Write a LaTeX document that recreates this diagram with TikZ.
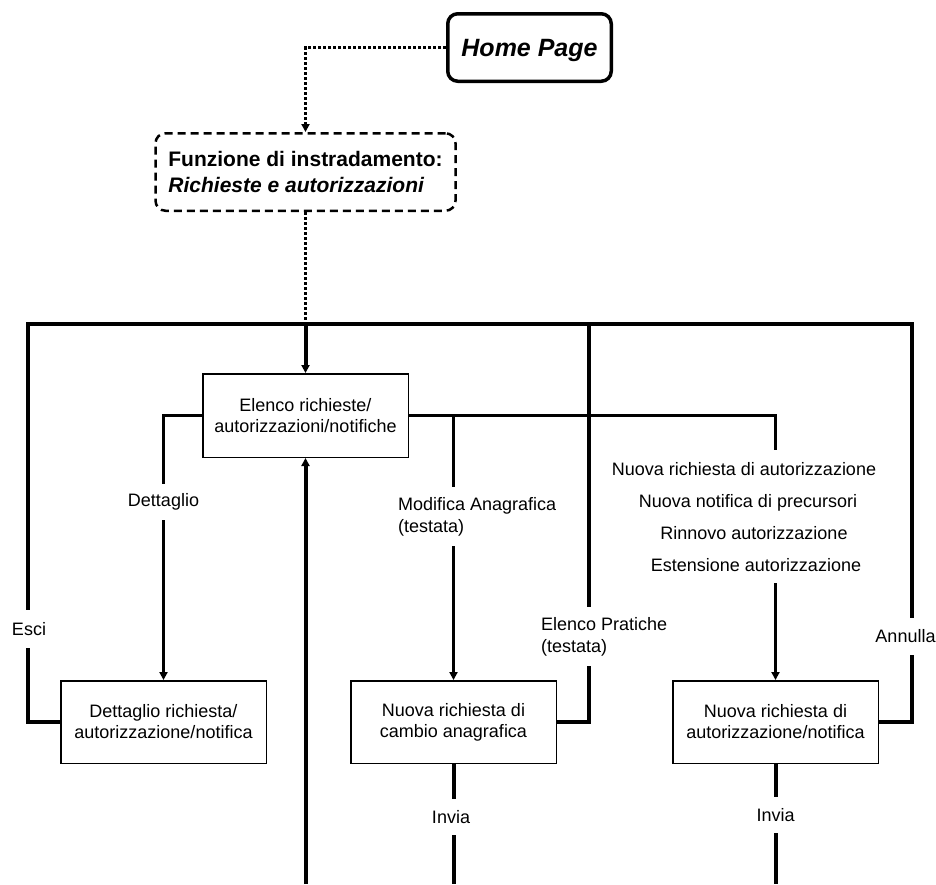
\documentclass[tikz,border=0pt]{standalone}
\usepackage{fontspec}
\setmainfont{Liberation Sans}
\usetikzlibrary{arrows.meta}
\begin{document}
\begin{tikzpicture}[x=1pt,y=-1pt,
  every node/.style={font=\fontsize{18}{21}\selectfont},
  box/.style={draw, line width=1.5pt, minimum width=205.5pt, minimum height=82.5pt, align=center, inner sep=0pt},
  thinl/.style={line width=2.4pt},
  thickl/.style={line width=4pt},
  arr/.style={-{Triangle[length=8pt,width=8pt]}},
  lbl/.style={fill=white, inner xsep=2pt, inner ysep=0pt},
  dotl/.style={line width=3pt, dash pattern=on 3pt off 2pt}
]
\useasboundingbox (0,0) rectangle (936,884);

% nodes
\node[draw, line width=3.5pt, rounded corners=10pt, minimum width=163.5pt, minimum height=67.5pt,
      font=\fontsize{25}{30}\selectfont\bfseries\itshape, text depth=0pt] (home) at (529.5,47.5) {Home Page};
\node[draw, line width=2.5pt, dash pattern=on 8pt off 5pt, rounded corners=10pt,
      minimum width=300pt, minimum height=77.5pt, align=left, inner sep=0pt,
      font=\fontsize{21}{26}\selectfont\bfseries] (func) at (305.5,172)
      {Funzione di instradamento:\\\textit{Richieste e autorizzazioni}};
\node[box, minimum height=83.5pt] (elenco) at (305.5,415.5) {Elenco richieste/\\autorizzazioni/notifiche};
\node[box] (dett) at (163.5,722) {Dettaglio richiesta/\\autorizzazione/notifica};
\node[box] (cambio) at (453.5,722) {Nuova richiesta di\\cambio anagrafica};
\node[box] (auth) at (775.5,722) {Nuova richiesta di\\autorizzazione/notifica};

% bus and free ends
\coordinate (busL) at (27.7,324);
\coordinate (busR) at (911.7,324);
\coordinate (busC) at (305.5,324);
\coordinate (busP) at (589,324);
\coordinate (botC) at (305.5,884);
\coordinate (botM) at (453.5,884);
\coordinate (botR) at (775.5,884);

% connectors
\draw[dotl, arr] (home.west) -| (func.north);
\draw[dotl] (func.south) -- (busC);
\draw[thickl, arr] (busC) -- (elenco.north);
\draw[thickl] (dett.west) -| (busL) -- (busR) |- (auth.east);
\draw[thickl] (cambio.east) -| (busP);
\draw[thinl, arr] (elenco.west) -| (dett.north);
\draw[thinl, arr] (elenco.east) -| (auth.north);
\draw[thinl, arr] (elenco.east -| cambio.north) -- (cambio.north);
\draw[thickl, arr] (botC) -- (elenco.south);
\draw[thickl] (cambio.south) -- (botM);
\draw[thickl] (auth.south) -- (botR);

% labels
\node[lbl, minimum height=36pt] (l1) at (163.5,502) {Dettaglio};
\node[lbl, minimum height=38pt] (l2) at (29,629) {Esci};
\node[lbl, minimum height=37pt] (l3) at (905.5,636.5) {Annulla};
\node[lbl, minimum height=36pt] (l4) at (451,817) {Invia};
\node[lbl, minimum height=36pt] (l5) at (775.5,815) {Invia};
\node[lbl, align=left, anchor=north west, inner ysep=10pt, font=\fontsize{18}{22}\selectfont] (l6) at (396,487) {Modifica Anagrafica\\(testata)};
\node[lbl, align=left, anchor=north west, inner ysep=10pt, font=\fontsize{18}{22}\selectfont] (l7) at (539,607) {Elenco Pratiche\\(testata)};
\node[lbl, anchor=base, inner ysep=12pt] (l8) at (744,475) {Nuova richiesta di autorizzazione};
\node[lbl, anchor=base, inner ysep=8pt] (l9) at (748,507) {Nuova notifica di precursori};
\node[lbl, anchor=base, inner ysep=8pt] (l10) at (754,539) {Rinnovo autorizzazione};
\node[lbl, anchor=base, inner ysep=12pt] (l11) at (756,571) {Estensione autorizzazione};
\end{tikzpicture}
\end{document}
